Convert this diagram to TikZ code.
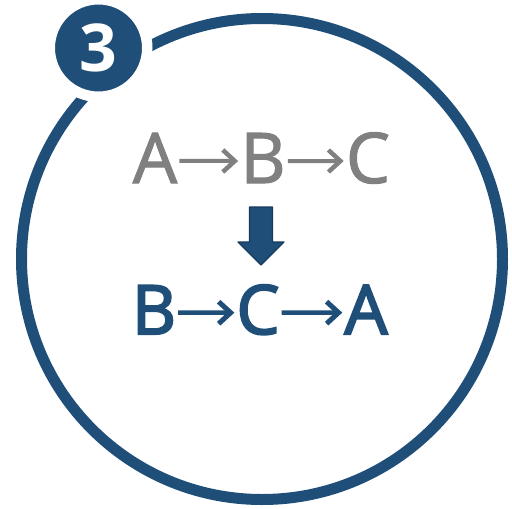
\documentclass[tikz,border=0pt]{standalone}
\usepackage{fontspec}
\setmainfont{Open Sans}
\newfontfamily\greyfont[FakeBold=1.6]{Open Sans}
\newfontfamily\navyfont[FakeBold=3]{Open Sans}
\usetikzlibrary{arrows.meta}
\definecolor{navy}{RGB}{31,78,121}
\definecolor{navydark}{RGB}{22,58,92}
\definecolor{greytxt}{RGB}{128,128,128}
\tikzset{
  ring/.style={draw=navy, line width=11},
  badge/.style={circle, fill=navy, draw=white, line width=10.5, minimum size=97.5, inner sep=0, text=white, font=\fontsize{66}{66}\selectfont\bfseries},
  toptxt/.style={anchor=base, inner sep=2, text=greytxt, font=\fontsize{70}{70}\greyfont},
  bottxt/.style={anchor=base, inner sep=2, text=navy, font=\fontsize{68}{68}\navyfont},
  toparr/.style={draw=greytxt, line width=4, -{Straight Barb[length=12, width=22, line width=4.5]}},
  botarr/.style={draw=navy, line width=4.5, -{Straight Barb[length=12, width=22, line width=5]}}
}
\begin{document}
\begin{tikzpicture}[x=1pt, y=-1pt]
				\useasboundingbox (0,0) rectangle (512,509);
				% big ring
				\draw[ring] (262,259) circle (240.5);
				% number badge
				\node[badge] (num) at (98.5,48) {3};
				% first row
				\foreach \n/\x/\t in {a/155/A, b/263/B, c/368/C} {
					\node[toptxt] (top\n) at (\x,183) {\t};
				}
				\draw[toparr] ([yshift=-3]topa.east) -- ([yshift=-3]topb.west);
				\draw[toparr] ([yshift=-3]topb.east) -- ([yshift=-3]topc.west);
				% block arrow
				\draw[fill=navy, draw=navydark, line width=1.2, line join=round]
					(249.5,207) -- (272.5,207) -- (272.5,242) -- (284,242) -- (261,265)
					-- (238,242) -- (249.5,242) -- cycle;
				% second row
				\foreach \n/\x/\t in {b/154/B, c/258/C, a/366/A} {
					\node[bottxt] (bot\n) at (\x,334) {\t};
				}
				\draw[botarr] ([yshift=-3]botb.east) -- ([yshift=-3]botc.west);
				\draw[botarr] ([yshift=-3]botc.east) -- ([yshift=-3]bota.west);
\end{tikzpicture}
\end{document}
